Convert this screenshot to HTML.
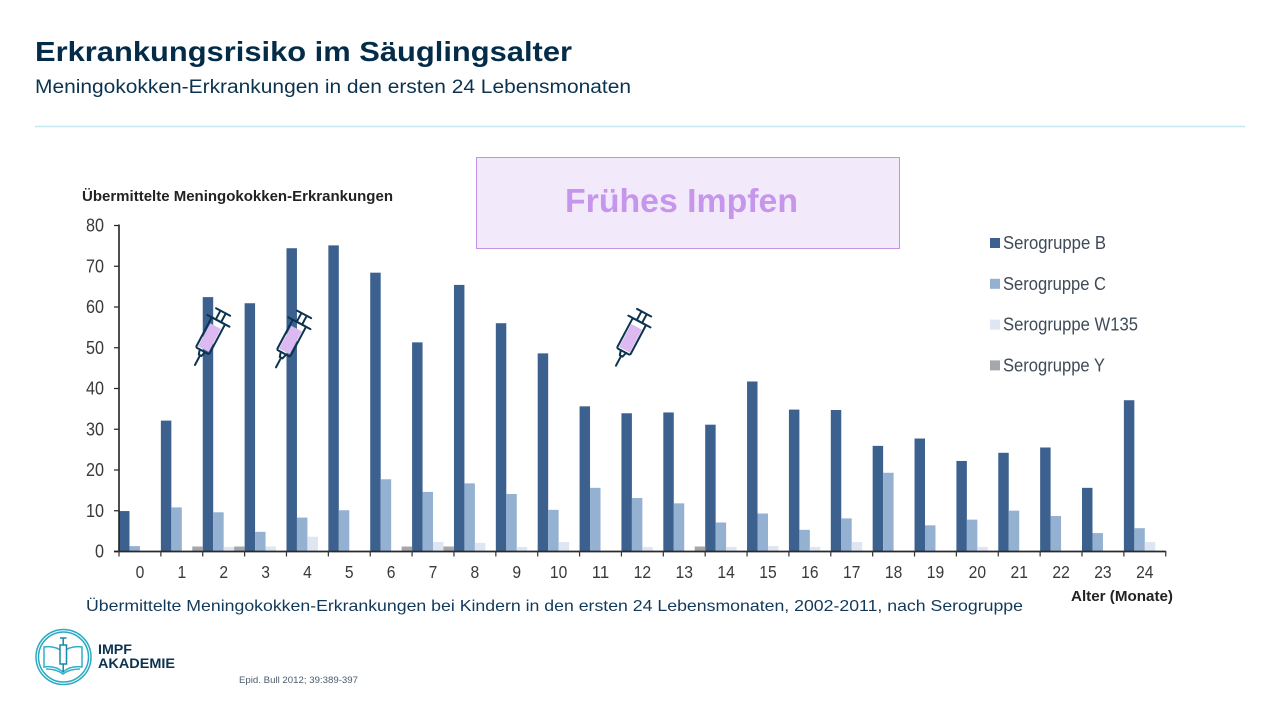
<!DOCTYPE html>
<html lang="de">
<head>
<meta charset="utf-8">
<title>Erkrankungsrisiko im Säuglingsalter</title>
<style>
html,body{margin:0;padding:0;background:#fff;width:1280px;height:720px;overflow:hidden}
svg{display:block}
text{font-family:"Liberation Sans",sans-serif}
</style>
</head>
<body>
<svg id="slide" xmlns="http://www.w3.org/2000/svg" width="1280" height="720" viewBox="0 0 1280 720">
  <text x="35" y="61" font-size="28" font-weight="700" fill="#042c48" textLength="537" lengthAdjust="spacingAndGlyphs">Erkrankungsrisiko im Säuglingsalter</text>
  <text x="35" y="93" font-size="19" fill="#0b3350" textLength="596" lengthAdjust="spacingAndGlyphs">Meningokokken-Erkrankungen in den ersten 24 Lebensmonaten</text>
  <line x1="35" y1="126.500" x2="1245" y2="126.500" stroke="#c4e8ef" stroke-width="1.500"/>

  <text x="82" y="201" font-size="15" font-weight="700" fill="#222" textLength="311" lengthAdjust="spacingAndGlyphs">Übermittelte Meningokokken-Erkrankungen</text>

  <g id="bars"></g>
  <g id="axes"></g>

  <g>
    <g id="legend-items"></g>
  </g>

  <rect x="476.500" y="157.500" width="423" height="91" fill="#f2e9fa" stroke="#c592ea" stroke-width="1"/>
  <text x="565" y="212" font-size="33" font-weight="700" fill="#c596ec" textLength="233" lengthAdjust="spacingAndGlyphs">Frühes Impfen</text>

  <g id="syringes"></g>

  <text x="1071" y="601" font-size="15" font-weight="700" fill="#222" textLength="102" lengthAdjust="spacingAndGlyphs">Alter (Monate)</text>
  <text x="86" y="611" font-size="16" fill="#12395a" textLength="937" lengthAdjust="spacingAndGlyphs">Übermittelte Meningokokken-Erkrankungen bei Kindern in den ersten 24 Lebensmonaten, 2002-2011, nach Serogruppe</text>

  <g>
    <circle cx="63.500" cy="657" r="27.500" fill="none" stroke="#2aa9c2" stroke-width="1.500"/>
    <circle cx="63.500" cy="657" r="25" fill="none" stroke="#2aa9c2" stroke-width="1.500"/>
    <path d="M63 672 C57 667 50 666 44 667 L44 647 C50 646 57 647 63 652 C69 647 76 646 82 647 L82 667 C76 666 69 667 63 672 Z" fill="none" stroke="#2fb0c8" stroke-width="1.500"/>
    <path d="M46 669 C52 669 58 670 63 674 C68 670 74 669 80 669" fill="none" stroke="#2fb0c8" stroke-width="1.500"/>
    <rect x="60" y="645" width="6.500" height="19" fill="#fff" stroke="#1e86a5" stroke-width="1.500"/>
    <path d="M63.200 664 V672 M63.200 645 V638 M60 638 H66.500" stroke="#1e86a5" stroke-width="1.500" fill="none"/>
    <text x="98" y="654" font-size="13.500" font-weight="700" fill="#0b3350" textLength="34" lengthAdjust="spacingAndGlyphs">IMPF</text>
    <text x="98" y="668" font-size="13.500" font-weight="700" fill="#0b3350" textLength="77" lengthAdjust="spacingAndGlyphs">AKADEMIE</text>
  </g>
  <text x="239" y="683" font-size="9" fill="#4a5c6c" textLength="119" lengthAdjust="spacingAndGlyphs">Epid. Bull 2012; 39:389-397</text>
</svg>

<script>
const months = ["0","1","2","3","4","5","6","7","8","9","10","11","12","13","14","15","16","17","18","19","20","21","22","23","24"];
const yTicks = [0,10,20,30,40,50,60,70,80];
const seriesNames = ["Serogruppe B","Serogruppe C","Serogruppe W135","Serogruppe Y"];
const serogroupB = [9.8,32,62.3,60.8,74.3,75,68.3,51.2,65.3,55.9,48.5,35.5,33.8,34,31,41.6,34.7,34.6,25.8,27.6,22.1,24.1,25.4,15.5,37];
const serogroupC = [1.2,10.7,9.5,4.7,8.2,10,17.6,14.5,16.6,14,10.1,15.5,13,11.7,7,9.2,5.2,8,19.2,6.3,7.7,9.9,8.6,4.4,5.6];
const serogroupW135 = [0,0,1,1.1,3.5,0,0,2.2,2,1,2.2,0,1,0,1,1.2,1,2.2,0,0,1,0,0,0,2.2];
const serogroupY = [0,1.1,1.1,0,0,0,1.1,1.1,0,0,0,0,0,1.1,0,0,0,0,0,0,0,0,0,0,0];

const NS = "http://www.w3.org/2000/svg";
const X0 = 119, BAND = 41.87, Y0 = 551, Y80 = 225, YMAX = 80;
const COLORS = ["#3d618f","#94b1d2","#dde6f2","#a6a7aa"];
const allSeries = [serogroupB, serogroupC, serogroupW135, serogroupY];
const seriesKeys = ["b","c","w135","y"];

function xScale(i){ return X0 + i * BAND; }
function yScale(v){ return Y0 - (v / YMAX) * (Y0 - Y80); }
function make(tag, attrs, parent){
  const el = document.createElementNS(NS, tag);
  for (const k in attrs) el.setAttribute(k, attrs[k]);
  parent.appendChild(el);
  return el;
}

const barsG = document.getElementById("bars");
const axesG = document.getElementById("axes");
const legendG = document.getElementById("legend-items");
const syringesG = document.getElementById("syringes");

allSeries.forEach(function(values, s){
  values.forEach(function(v, i){
    if (v <= 0) return;
    const top = yScale(v);
    const r = make("rect", {x: xScale(i) + s * BAND / 4, y: top, width: BAND / 4, height: Y0 - top, fill: COLORS[s]}, barsG);
    
    
  });
});

const yAxisLine = make("line", {x1: X0, y1: Y80 - 0.5, x2: X0, y2: Y0 + 1, stroke: "#222", "stroke-width": 1.6}, axesG);


const xAxisLine = make("line", {x1: X0 - 5, y1: Y0 + 0.5, x2: xScale(months.length), y2: Y0 + 0.5, stroke: "#2a2a2a", "stroke-width": 1.8}, axesG);



yTicks.forEach(function(t){
  const y = yScale(t);
  const tick = make("line", {x1: X0 - 5, y1: y + 0.5, x2: X0, y2: y + 0.5, stroke: "#222", "stroke-width": 1.2}, axesG);
  
  
  const label = make("text", {x: 104, y: y + 6.5, "text-anchor": "end", "font-size": 18, fill: "#3a3a3a", textLength: String(t).length * 9, lengthAdjust: "spacingAndGlyphs"}, axesG);
  label.textContent = t;
  
  
});

for (let i = 0; i <= months.length; i++){
  const tick = make("line", {x1: xScale(i), y1: Y0, x2: xScale(i), y2: Y0 + 5.500, stroke: "#333", "stroke-width": 1.2}, axesG);
  
  
}
months.forEach(function(m, i){
  const label = make("text", {x: xScale(i) + BAND / 2, y: 578, "text-anchor": "middle", "font-size": 17.500, fill: "#3a3a3a", textLength: m.length * 8.700, lengthAdjust: "spacingAndGlyphs"}, axesG);
  label.textContent = m;
  
  
});

const legendWidths = [103, 103, 135, 102];
seriesNames.forEach(function(name, s){
  const cy = 243 + s * 40.8;
  const swatch = make("rect", {x: 990, y: cy - 5, width: 10, height: 10, fill: COLORS[s]}, legendG);
  
  
  const label = make("text", {x: 1003, y: cy + 6, "font-size": 18, fill: "#3f4a58", textLength: legendWidths[s], lengthAdjust: "spacingAndGlyphs"}, legendG);
  label.textContent = name;
  
  
});

function drawSyringe(cx, cy, idx){
  const g = make("g", {transform: "translate(" + cx + " " + cy + ") rotate(28)", fill: "none", stroke: "#0c3350", "stroke-width": 2, "stroke-linecap": "round", "stroke-linejoin": "round"}, syringesG);
  
  
  make("rect", {x: -6, y: -13, width: 12, height: 26, fill: "#dcb9f0", stroke: "none"}, g);
  make("rect", {x: -7.500, y: -19, width: 15, height: 34, rx: 1.500}, g);
  make("path", {d: "M-12.500 -19 H12.500 M-3 -19 V-29 M3 -19 V-29 M-8 -29 H8 M-3 15 L-1.500 20 H1.500 L3 15 M0 20 V31"}, g);
}
drawSyringe(209.500, 337.600, 1);
drawSyringe(290.500, 340, 2);
drawSyringe(630.500, 338.300, 3);
</script>
</body>
</html>
